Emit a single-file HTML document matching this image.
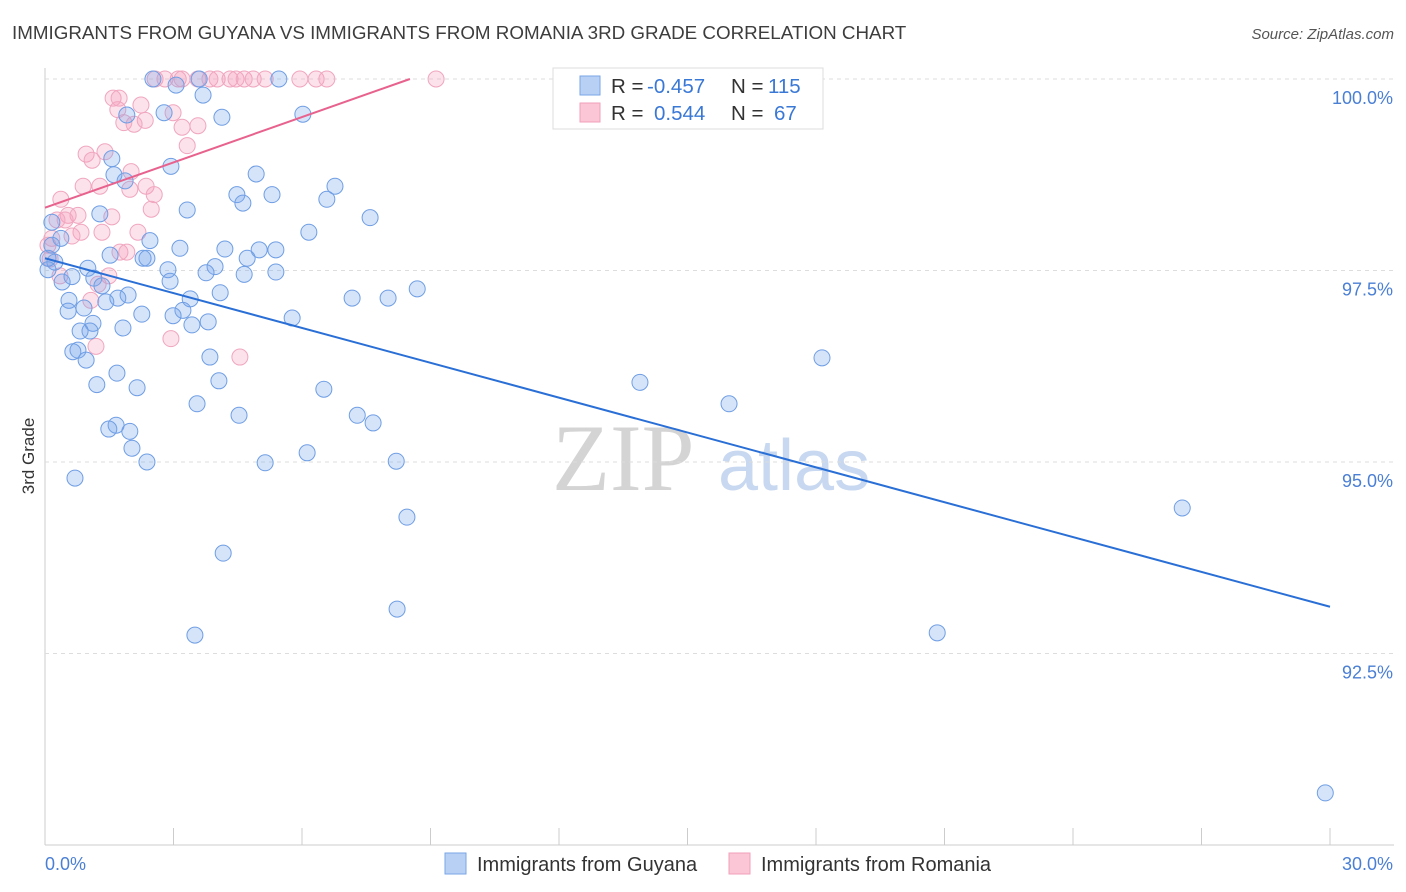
<!DOCTYPE html>
<html><head><meta charset="utf-8"><style>
body{margin:0;background:#fff;font-family:"Liberation Sans",sans-serif;}
#wrap{position:relative;width:1406px;height:892px;overflow:hidden;}
</style></head><body>
<div id="wrap">
<svg id="svg" width="1406" height="892" xmlns="http://www.w3.org/2000/svg">
<text x="12" y="39" font-size="18.8" fill="#3d3d3d">IMMIGRANTS FROM GUYANA VS IMMIGRANTS FROM ROMANIA 3RD GRADE CORRELATION CHART</text>
<text x="1394" y="39" font-size="15" fill="#555" font-style="italic" text-anchor="end">Source: ZipAtlas.com</text>
<text x="34" y="456" font-size="17" fill="#333" transform="rotate(-90 34 456)" text-anchor="middle">3rd Grade</text>
<g><text x="552" y="490" font-size="95" font-family="Liberation Serif,serif" fill="#d4d4d4">ZIP</text><text x="718" y="490" font-size="72" fill="#c8d8f0">atlas</text></g>
<g id="grid"></g><g id="pts"></g><g id="trend"></g>
<g>
<rect x="553" y="68" width="270" height="61" fill="#fff" stroke="#ddd"/>
<rect x="580" y="76" width="20" height="19" fill="#b8d0f4" stroke="#7aa6e6"/>
<rect x="580" y="103" width="20" height="19" fill="#fbc6d6" stroke="#f0a0bb"/>
<text y="93" font-size="20.5" fill="#333"><tspan x="611">R = </tspan><tspan x="647" fill="#3a78d6">-0.457</tspan><tspan x="731">N = </tspan><tspan x="768" fill="#3a78d6">115</tspan></text>
<text y="120" font-size="20.5" fill="#333"><tspan x="611">R = </tspan><tspan x="654" fill="#3a78d6">0.544</tspan><tspan x="731">N = </tspan><tspan x="774" fill="#3a78d6">67</tspan></text>
</g>
<g>
<rect x="445" y="853" width="21" height="21" fill="#b8d0f4" stroke="#7aa6e6"/>
<text x="477" y="871" font-size="20" fill="#333">Immigrants from Guyana</text>
<rect x="729" y="853" width="21" height="21" fill="#fbc6d6" stroke="#f0a0bb"/>
<text x="761" y="871" font-size="20" fill="#333">Immigrants from Romania</text>
</g>
</svg></div>
<script>
const xTicks=[0,3,6,9,12,15,18,21,24,27,30];
const yTicks=[92.5,95,97.5,100];
const yTickLabels=["92.5%","95.0%","97.5%","100.0%"];
const blueX=[2.52,3.60,5.46,3.06,3.69,2.78,4.13,6.02,1.91,1.56,2.94,1.61,1.87,4.93,6.77,4.48,5.30,4.62,6.58,1.28,3.32,7.59,0.16,6.16,0.37,2.45,3.15,4.20,5.00,5.39,0.16,1.52,2.29,2.38,4.72,0.23,1.00,2.87,3.97,3.76,4.65,5.39,0.07,0.40,0.63,1.14,2.92,1.33,4.09,1.94,1.70,3.39,7.17,8.01,8.69,0.56,1.42,0.54,0.91,2.26,3.22,2.99,3.43,3.81,1.12,1.82,1.05,0.82,5.77,0.77,0.65,0.96,3.85,18.14,1.68,1.21,2.15,4.06,6.51,13.89,3.55,4.53,7.29,7.66,15.97,1.66,1.49,1.98,2.03,2.38,5.14,6.12,8.20,0.70,8.45,26.55,4.16,8.22,3.50,20.83,29.89,0.07];
const blueY=[100,100,100,99.92,99.79,99.56,99.50,99.54,99.53,98.96,98.86,98.75,98.67,98.76,98.60,98.49,98.49,98.38,98.43,98.24,98.29,98.19,98.13,98.00,97.92,97.89,97.79,97.78,97.77,97.77,97.83,97.70,97.66,97.66,97.66,97.61,97.53,97.51,97.55,97.47,97.45,97.48,97.51,97.35,97.42,97.40,97.36,97.30,97.21,97.18,97.14,97.13,97.14,97.14,97.26,97.11,97.09,96.97,97.01,96.93,96.98,96.91,96.79,96.83,96.81,96.75,96.71,96.71,96.88,96.46,96.44,96.33,96.37,96.36,96.16,96.01,95.97,96.06,95.95,96.04,95.76,95.61,95.61,95.51,95.76,95.48,95.43,95.40,95.18,95.00,94.99,95.12,95.01,94.79,94.28,94.40,93.81,93.08,92.74,92.77,90.68,97.66];
const pinkX=[2.57,2.80,3.11,3.20,3.57,3.85,4.02,4.32,4.46,4.65,4.86,5.14,5.95,6.33,6.58,9.13,12.10,1.59,1.73,2.24,1.70,2.99,2.34,1.84,2.08,3.57,3.20,3.32,0.96,1.40,1.10,2.01,2.36,0.89,1.28,2.55,1.98,0.37,2.48,0.54,0.77,1.56,0.47,0.28,0.84,1.33,0.63,0.16,2.17,1.75,1.91,0.07,0.12,1.49,1.24,1.07,1.19,2.94,4.55,0.35];
const pinkY=[100,100,100,100,100,100,100,100,100,100,100,100,100,100,100,100,100,99.75,99.75,99.66,99.60,99.56,99.46,99.43,99.41,99.39,99.37,99.13,99.02,99.05,98.94,98.79,98.60,98.60,98.60,98.49,98.56,98.43,98.30,98.22,98.22,98.20,98.16,98.16,98.00,98.00,97.95,97.92,98.00,97.74,97.74,97.83,97.65,97.43,97.32,97.11,96.51,96.61,96.37,97.43];
const blueTrendX=[0,30], blueTrendY=[97.66,93.11];
const pinkTrendX=[0,8.52], pinkTrendY=[98.32,100];
const X=v=>45+v*(1285/30);
const Y=v=>79+(100-v)*76.6;
const NS="http://www.w3.org/2000/svg";
function mk(t,a,p){const e=document.createElementNS(NS,t);for(const k in a)e.setAttribute(k,a[k]);p.appendChild(e);return e;}
const grid=document.getElementById('grid');
mk('line',{x1:45,y1:68,x2:45,y2:845,stroke:'#ccc'},grid);
mk('line',{x1:45,y1:845,x2:1394,y2:845,stroke:'#ccc'},grid);
yTicks.forEach((t,i)=>{
 const l=mk('line',{x1:45,y1:Y(t),x2:1394,y2:Y(t),stroke:'#ddd','stroke-dasharray':'4,4'},grid);
 
 
 const tx=mk('text',{x:1393,y:Y(t)+25,'font-size':18,fill:'#4a7fd4','text-anchor':'end'},grid);
 tx.textContent=yTickLabels[i];
 
 
});
xTicks.forEach(t=>{
 const l=mk('line',{x1:X(t),y1:828,x2:X(t),y2:845,stroke:'#ccc'},grid);
 
 
});
const xl0=mk('text',{x:45,y:870,'font-size':18,fill:'#4a7fd4'},grid);xl0.textContent=xTicks[0].toFixed(1)+'%';


const xl1=mk('text',{x:1393,y:870,'font-size':18,fill:'#4a7fd4','text-anchor':'end'},grid);xl1.textContent=xTicks[xTicks.length-1].toFixed(1)+'%';


const pts=document.getElementById('pts');
pinkX.forEach((v,i)=>{
 const c=mk('circle',{cx:X(v),cy:Y(pinkY[i]),r:8,fill:'rgba(244,160,188,0.3)',stroke:'#f0a6bf','stroke-width':1},pts);
 
 
});
blueX.forEach((v,i)=>{
 const c=mk('circle',{cx:X(v),cy:Y(blueY[i]),r:8,fill:'rgba(120,165,235,0.3)',stroke:'#6f9ee4','stroke-width':1},pts);
 
 
});
const tr=document.getElementById('trend');
const bl=mk('line',{x1:X(blueTrendX[0]),y1:Y(blueTrendY[0]),x2:X(blueTrendX[1]),y2:Y(blueTrendY[1]),stroke:'#2a6fd6','stroke-width':2},tr);


const pl=mk('line',{x1:X(pinkTrendX[0]),y1:Y(pinkTrendY[0]),x2:X(pinkTrendX[1]),y2:Y(pinkTrendY[1]),stroke:'#e8628e','stroke-width':2},tr);


</script>
</body></html>
